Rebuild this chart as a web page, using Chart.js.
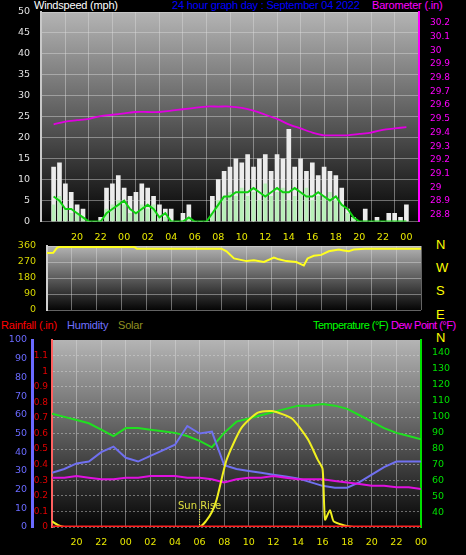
<!DOCTYPE html>
<html><head><meta charset="utf-8">
<script src="https://cdn.jsdelivr.net/npm/chart.js@4"></script>
<style>
body{margin:0;background:#000;width:466px;height:555px;overflow:hidden;position:relative;font-family:"Liberation Sans",sans-serif}
canvas{position:absolute;left:0}
.t{position:absolute;font-size:11px;white-space:nowrap;letter-spacing:-0.2px}
</style></head><body>
<div class="t" style="left:34px;top:-1px;color:#fff">Windspeed (mph)</div>
<div class="t" style="left:172px;top:-1px;color:#0000ff">24 hour graph day : September 04 2022</div>
<div class="t" style="left:372px;top:-1px;color:#ff00ff">Barometer (.in)</div>
<div class="t" style="left:436px;top:233px;color:#ffff00;line-height:23.2px;font-size:13px">N<br>W<br>S<br>E<br>N</div>
<div class="t" style="left:1px;top:319px;color:#ff0000">Rainfall (.in)</div>
<div class="t" style="left:67px;top:319px;color:#7070ff">Humidity</div>
<div class="t" style="left:118px;top:319px;color:#909020">Solar</div>
<div class="t" style="left:313px;top:319px;color:#00ff00;letter-spacing:-0.5px">Temperature (°F)</div>
<div class="t" style="left:391px;top:319px;color:#ff00ff;letter-spacing:-0.5px">Dew Point (°F)</div>
<canvas id="c1"></canvas><canvas id="c2"></canvas><canvas id="c3"></canvas>
<script>
// ---- data ----
const windHours = Array.from({length:61},(_,i)=>i*0.5);
const windGust = [13,14,9,7,4,3,0,0,1,8, 9,11,8,6,7,9,8,6,4,3, 3,0,2,4,0,0,0,6,10,12, 13,15,14,16,13,15,16,12,16,15, 22,13,15,12,14,11,13,12,11,8, 3,1,0,3,0,1,0,2,2,1, 4];
const windAvg  = [6,5,3,3,2,1,0,0,0,2, 3,4,5,3,2,3,4,3,1,2, 0,0,0,1,0,0,0,2,4,6, 6,7,7,7,8,7,6,7,8,7, 7,8,7,6,6,7,6,5,6,4, 3,1,0,0,0,0,0,0,0,0, 0];
const windSpeed= [4,6,3,2,2,1,0,0,0,3, 4,5,4,2,2,4,3,4,1,1, 0,0,0,1,0,0,0,2,5,6, 7,6,8,6,7,5,9,6,7,8, 5,6,7,8,5,6,6,7,5,4, 2,1,0,0,0,0,0,0,0,0, 0];
const hours = Array.from({length:31},(_,i)=>i);
const barometer = [29.46,29.48,29.49,29.50,29.52,29.53,29.54,29.55,29.55,29.55,29.56,29.57,29.58,29.59,29.59,29.59,29.58,29.56,29.53,29.50,29.46,29.43,29.40,29.38,29.38,29.38,29.39,29.40,29.42,29.43,29.44];
const dirHours  = [0,0.5,0.8,1,7,7.2,14,14.4,15,16,16.6,17.4,18.2,18.6,19.2,20,20.6,20.9,21.4,22,22.6,23.4,23.8,24.2,24.6,25.5,30];
const dirValues = [320,322,350,355,355,345,345,330,290,275,280,270,295,285,275,270,250,290,305,310,330,340,335,330,340,345,345];
const temperature = [102,100,98,96,92,88,93,93,92,91,90,88,85,81,90,97,99,101,103,105,107,107,108,107,105,101,97,93,90,88,86];
const humidity = [29,31,34,35,40,43,37,35,38,41,44,54,50,51,33,31,30,29,28,27,26,24,22,21,21,24,28,32,35,35,35];
const dewPoint = [62,62,63,62,61,61,62,62,63,63,63,62,62,61,59,61,62,62,63,62,61,61,61,60,59,58,57,57,56,56,55];
const solarHours = [0,0.5,1,12,12.5,13,13.4,14.2,15.4,16.7,17.9,19.5,20.8,21.6,22,22.2,22.6,22.9,23.7,24.5,30];
const solarValues = [3,1,0,0,3,8,15,36,53,61,62,58,47,36,31,4,9,3,1,0,0];
const rainHours = [0,30];
const rainValues = [0,0];
const tickHours = [2,4,6,8,10,12,14,16,18,20,22,24,26,28,30];
const baseHour = 18;
// ---- helpers ----
const tickFmt = v => String((baseHour+v)%24).padStart(2,'0');
const bgPlugin = {id:'bg',beforeDraw(c){const a=c.chartArea,ctx=c.ctx;const g=ctx.createLinearGradient(0,a.top,0,a.bottom);g.addColorStop(0,'#b4b4b4');g.addColorStop(1,'#050505');ctx.save();ctx.fillStyle=g;ctx.fillRect(a.left,a.top,a.width,a.height);ctx.restore();}};
const grid = {color:'rgba(220,220,220,0.45)',lineWidth:1,tickColor:'rgba(0,0,0,0)'};
const xAxis = (show)=>({type:'linear',min:0,max:30,display:show,afterBuildTicks:s=>{s.ticks=tickHours.map(v=>({value:v}));},
  ticks:{color:'#e8e800',font:{size:9.5},callback:tickFmt,maxRotation:0,padding:2},grid:{...grid,borderDash:[1,2]},border:{display:false}});
const fixW=w=>s=>{s.width=w;};
function setup(id,top,h){const c=document.getElementById(id);c.style.top=top+'px';c.width=466;c.height=h;c.style.width='466px';c.style.height=h+'px';return c;}
Chart.defaults.font.family='"DejaVu Sans",sans-serif';
Chart.defaults.animation=false;
const common={responsive:false,plugins:{legend:{display:false},tooltip:{enabled:false}}};

// ---- chart 1: wind + barometer ----
new Chart(setup('c1',0,245),{type:'bar',plugins:[bgPlugin],
 data:{datasets:[
  {type:'line',data:hours.map((h,i)=>({x:h,y:barometer[i]})),yAxisID:'yb',borderColor:'#e000e0',borderWidth:1.8,pointRadius:0,tension:0.3,order:0},
  {type:'line',data:windHours.map((h,i)=>({x:h,y:windAvg[i]})),yAxisID:'y',borderColor:'#10d010',borderWidth:2,pointRadius:0,order:1},
  {data:windHours.map((h,i)=>({x:h,y:windSpeed[i]})),yAxisID:'y',backgroundColor:'#b8f0b8',barThickness:3,grouped:false,order:2},
  {data:windHours.map((h,i)=>({x:h,y:windGust[i]})),yAxisID:'y',backgroundColor:'#ececec',barThickness:4,grouped:false,order:3}
 ]},
 options:{...common,layout:{padding:{top:12,bottom:0}},scales:{
  x:xAxis(true),
  y:{position:'left',min:0,max:50,afterFit:fixW(41),ticks:{stepSize:5,color:'#e0e0e0',font:{size:9.5}},grid:{...grid,borderDash:[1,2]},border:{color:'#c8c8c8',width:2}},
  yb:{position:'right',min:28.75,max:30.28,afterFit:fixW(47),afterBuildTicks:s=>{s.ticks=[28.8,28.9,29,29.1,29.2,29.3,29.4,29.5,29.6,29.7,29.8,29.9,30,30.1,30.2].map(v=>({value:v}));},
      ticks:{color:'#ff00ff',font:{size:9},callback:v=>String(+v.toFixed(1))},grid:{display:false},border:{color:'#ff00ff',width:2}}
 }}});

// ---- chart 2: wind direction ----
new Chart(setup('c2',236,84),{type:'line',plugins:[bgPlugin],
 data:{datasets:[{data:dirHours.map((h,i)=>({x:h,y:dirValues[i]})),borderColor:'#ffff20',borderWidth:2,pointRadius:0}]},
 options:{...common,layout:{padding:{top:10,bottom:10}},scales:{
  x:{...xAxis(false),display:true,ticks:{display:false},afterFit:s=>{s.height=0;}},
  y:{position:'left',min:0,max:360,afterFit:fixW(47),ticks:{stepSize:90,color:'#d8d800',font:{size:9.5}},grid:{...grid,borderDash:[1,2]},border:{color:'#d0d0d0',width:2}},
  yr:{position:'right',min:0,max:360,afterFit:fixW(45),ticks:{display:false},grid:{display:false},border:{display:false}}
 }}});

// ---- chart 3: temp, humidity, rain, solar ----
const sunPlugin={id:'sun',afterDatasetsDraw(c){const x=c.scales.x.getPixelForValue(12),b=c.chartArea.bottom,ctx=c.ctx;ctx.save();ctx.strokeStyle='#ffff40';ctx.setLineDash([1,1.5]);ctx.beginPath();ctx.moveTo(x,b-18);ctx.lineTo(x,b);ctx.stroke();ctx.fillStyle='#e0e040';ctx.font='10px "DejaVu Sans"';ctx.textAlign='center';ctx.fillText('Sun Rise',x,b-18);ctx.restore();}};
new Chart(setup('c3',320,235),{type:'line',plugins:[bgPlugin,sunPlugin],
 data:{datasets:[
  {data:rainHours.map((h,i)=>({x:h,y:rainValues[i]})),yAxisID:'yr',borderColor:'#ff2020',borderWidth:3,pointRadius:0},
  {data:solarHours.map((h,i)=>({x:h,y:solarValues[i]})),yAxisID:'ys',borderColor:'#f0f020',borderWidth:2,pointRadius:0,tension:0.2},
  {data:hours.map((h,i)=>({x:h,y:dewPoint[i]})),yAxisID:'yt',borderColor:'#e010e0',borderWidth:2,pointRadius:0},
  {data:hours.map((h,i)=>({x:h,y:humidity[i]})),yAxisID:'yh',borderColor:'#7070f0',borderWidth:2,pointRadius:0},
  {data:hours.map((h,i)=>({x:h,y:temperature[i]})),yAxisID:'yt',borderColor:'#20e020',borderWidth:2,pointRadius:0}
 ]},
 options:{...common,layout:{padding:{top:20}},scales:{
  x:{...xAxis(true),afterFit:s=>{s.height=28;}},
  yr:{position:'left',min:0,max:1.2,afterFit:fixW(20),afterBuildTicks:s=>{s.ticks=[0,0.1,0.2,0.3,0.4,0.5,0.6,0.7,0.8,0.9,1,1.1].map(v=>({value:v}));},
      ticks:{color:'#e00000',font:{size:9},callback:v=>String(+v.toFixed(1)),padding:1},grid:{...grid,borderDash:[1,2],tickLength:3},border:{color:'#ff6060',width:2,dash:[2,2]}},
  yh:{position:'left',min:0,max:100,afterFit:fixW(32),ticks:{stepSize:10,color:'#6a6aff',font:{size:9.5},padding:2},grid:{display:false,tickLength:3},border:{color:'#6a6aff',width:3}},
  ys:{display:false,min:0,max:100},
  yt:{position:'right',min:31.2,max:148,afterFit:fixW(45),afterBuildTicks:s=>{s.ticks=[40,50,60,70,80,90,100,110,120,130,140].map(v=>({value:v}));},
      ticks:{color:'#00e000',font:{size:9.5}},grid:{display:false},border:{color:'#00e000',width:2}}
 }}});
</script></body></html>
